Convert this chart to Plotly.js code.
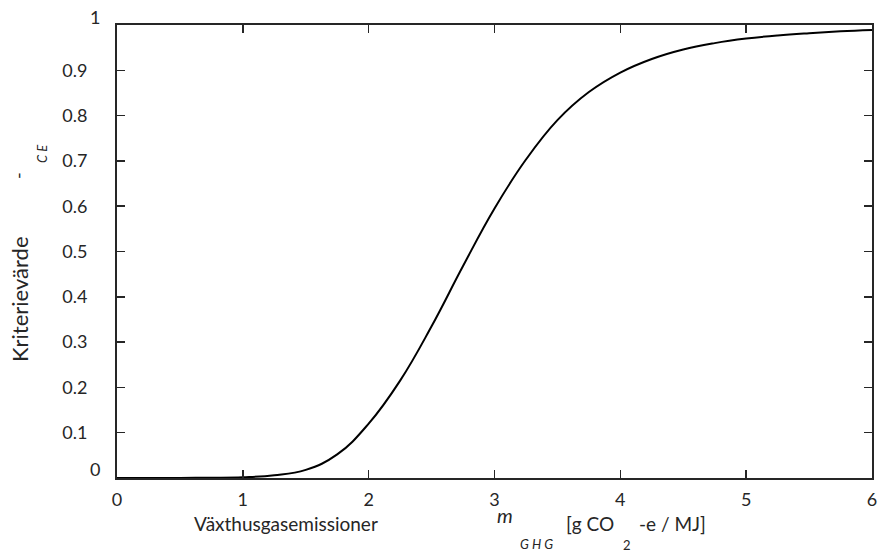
<!DOCTYPE html>
<html>
<head>
<meta charset="utf-8">
<script src="https://cdn.plot.ly/plotly-3.0.1.min.js"></script>
<style>
  html, body { margin: 0; padding: 0; background: #ffffff; }
  #chart { width: 880px; height: 555px; }
</style>
</head>
<body>
<div id="chart"></div>
<script>
// Emission level (g CO2-e / MJ) and the resulting criterion value
const emission = [0, 0.25, 0.5, 0.75, 1.0, 1.25, 1.5, 1.75, 2.0, 2.25, 2.5, 2.75,
                  3.0, 3.25, 3.5, 3.75, 4.0, 4.25, 4.5, 4.75, 5.0, 5.25, 5.5, 5.75, 6.0];
const criterion = [0, 0, 0.0002, 0.0006, 0.0017, 0.006, 0.018, 0.052, 0.12, 0.215, 0.335, 0.468,
                   0.595, 0.703, 0.79, 0.852, 0.895, 0.925, 0.946, 0.96, 0.97, 0.977, 0.982, 0.986, 0.989];

const xTicks = [0, 1, 2, 3, 4, 5, 6];
const yTicks = [0.1, 0.2, 0.3, 0.4, 0.5, 0.6, 0.7, 0.8, 0.9];
const yTickText = ['0.1', '0.2', '0.3', '0.4', '0.5', '0.6', '0.7', '0.8', '0.9'];

const W = 880, H = 555;
const M = { l: 117, r: 8, t: 25, b: 77 };
const PW = W - M.l - M.r, PH = H - M.t - M.b;
// pixel position -> paper coordinates
const px = v => (v - M.l) / PW;
const py = v => (H - M.b - v) / PH;

const FONT = 'Lato, "Open Sans", sans-serif';
const INK = '#262626';

function label(text, x, y, size, opts) {
  return Object.assign({
    text: text, xref: 'paper', yref: 'paper', x: px(x), y: py(y),
    showarrow: false, xanchor: 'center', yanchor: 'middle',
    font: { family: FONT, size: size, color: INK }
  }, opts || {});
}

const annotations = [
  // end labels of the value axis
  label('1', 102, 17, 18, { xanchor: 'right' }),
  label('0', 102, 469, 18, { xanchor: 'right' }),
  // value axis title
  label('Kriterievärde', 19, 299, 22, { textangle: -90 }),
  label('-', 18, 176, 18, { textangle: -90 }),
  label('<i>C E</i>', 42, 154, 13, { textangle: -90 }),
  // emission axis title
  label('Växthusgasemissioner', 286, 523, 19),
  label('<i>m</i>', 505, 515, 20),
  label('<i>G H G</i>', 536, 544, 13),
  label('[g CO', 590, 523, 19),
  label('2', 627, 545, 13),
  label('-e / MJ]', 672, 523, 19)
];

const trace = {
  x: emission, y: criterion, type: 'scatter', mode: 'lines',
  line: { color: '#000000', width: 2, shape: 'spline', smoothing: 1.2 },
  hoverinfo: 'skip'
};

const axisCommon = {
  showgrid: false, zeroline: false, showline: true, mirror: 'ticks',
  linecolor: INK, linewidth: 2, ticks: 'inside', ticklen: 8, tickwidth: 1.5,
  tickcolor: INK, tickfont: { family: FONT, size: 18, color: INK }
};

const layout = {
  width: W, height: H,
  margin: M,
  paper_bgcolor: '#ffffff', plot_bgcolor: '#ffffff',
  showlegend: false,
  xaxis: Object.assign({}, axisCommon, {
    range: [0, 6], tickvals: xTicks, ticktext: xTicks.map(String),
    ticklabelstandoff: 4
  }),
  yaxis: Object.assign({}, axisCommon, {
    range: [0, 1], tickvals: yTicks, ticktext: yTickText,
    ticklabelstandoff: 24
  }),
  annotations: annotations
};

Plotly.newPlot('chart', [trace], layout, { displayModeBar: false, staticPlot: true });
</script>
</body>
</html>
